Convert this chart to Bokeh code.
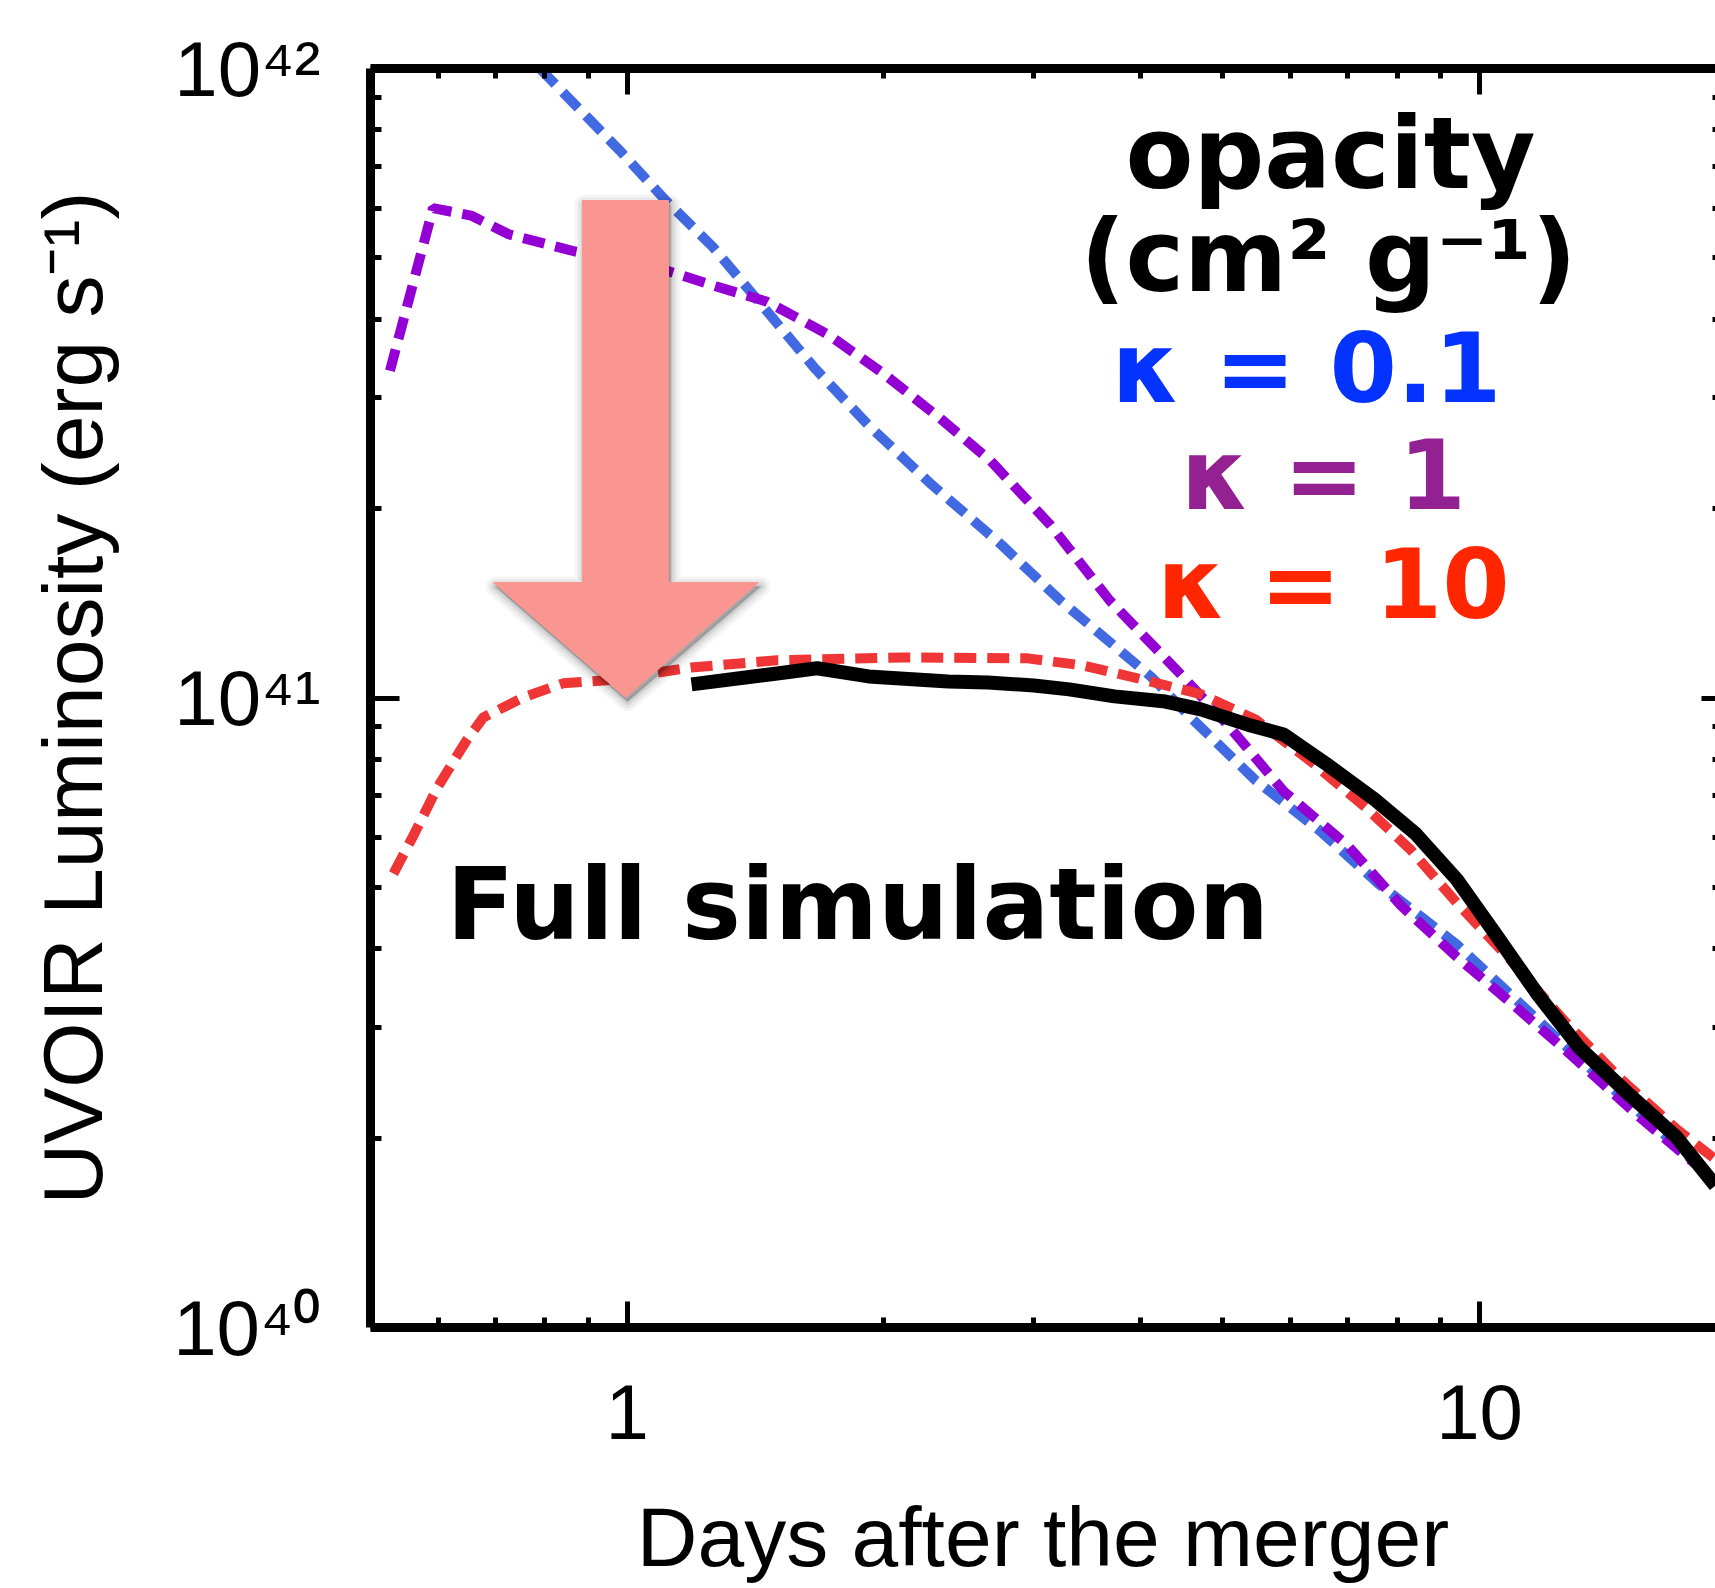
import math
from bokeh.plotting import figure
from bokeh.models import Range1d, LogAxis, CustomJSTickFormatter, FixedTicker
from bokeh.core.properties import value
from bokeh.embed import file_html
from bokeh.resources import INLINE

# ---------------- data ----------------
days_k01 = [0.79, 0.98, 1.11, 1.26, 1.46, 1.66, 1.92, 2.27, 2.75, 3.22, 4.12, 4.61,
            5.46, 6.49, 7.61, 9.40, 11.0, 13.1, 15.8, 18.9]
lum_k01 = [1.00e42, 7.41e41, 6.17e41, 5.21e41, 4.11e41, 3.34e41, 2.71e41, 2.19e41,
           1.75e41, 1.43e41, 1.08e41, 9.24e40, 7.40e40, 6.16e40, 5.07e40, 4.06e40,
           3.33e40, 2.67e40, 2.13e40, 1.71e40]

days_k1 = [0.527, 0.592, 0.656, 0.727, 0.869, 1.11, 1.27, 1.46, 1.72, 1.99, 2.33, 2.67,
           3.14, 3.68, 4.49, 5.08, 5.89, 7.00, 8.10, 9.40, 11.0, 12.8, 15.4, 18.9]
lum_k1 = [3.31e41, 6.00e41, 5.84e41, 5.45e41, 5.12e41, 4.78e41, 4.51e41, 4.26e41,
          3.78e41, 3.29e41, 2.78e41, 2.38e41, 1.88e41, 1.43e41, 1.08e41, 9.02e40,
          7.11e40, 5.83e40, 4.67e40, 3.88e40, 3.24e40, 2.71e40, 2.16e40, 1.71e40]

days_k10 = [0.532, 0.563, 0.599, 0.648, 0.678, 0.755, 0.841, 0.940, 1.19, 1.50, 2.10,
            2.95, 3.42, 4.07, 4.72, 5.46, 6.34, 7.35, 8.30, 9.40, 11.0, 12.6, 14.6, 17.0, 18.9]
lum_k10 = [5.26e40, 6.09e40, 7.21e40, 8.56e40, 9.31e40, 1.002e41, 1.055e41, 1.066e41,
           1.118e41, 1.148e41, 1.160e41, 1.156e41, 1.127e41, 1.066e41, 1.013e41, 9.24e40,
           7.93e40, 6.70e40, 5.74e40, 4.73e40, 3.77e40, 3.06e40, 2.49e40, 2.07e40, 1.85e40]

days_sim = [1.19, 1.50, 1.67, 1.92, 2.38, 2.65, 3.00, 3.30, 3.73, 4.28, 4.71, 5.39, 5.89,
            6.65, 7.53, 8.41, 9.40, 10.5, 11.7, 13.1, 15.0, 17.0, 18.9]
lum_sim = [1.051e41, 1.094e41, 1.115e41, 1.082e41, 1.062e41, 1.058e41, 1.047e41, 1.032e41,
           1.006e41, 9.87e40, 9.59e40, 9.04e40, 8.75e40, 7.81e40, 6.90e40, 6.09e40,
           5.15e40, 4.17e40, 3.38e40, 2.78e40, 2.34e40, 2.01e40, 1.68e40]

x_major = [1, 10]
x_minor = [0.6, 0.7, 0.8, 0.9, 2, 3, 4, 5, 6, 7, 8, 9]
y_major = [1e40, 1e41, 1e42]
y_minor = [2e40, 3e40, 4e40, 5e40, 6e40, 7e40, 8e40, 9e40,
           2e41, 3e41, 4e41, 5e41, 6e41, 7e41, 8e41, 9e41]

x_label = "Days after the merger"
y_label = "UVOIR Luminosity (erg s\u207b\u00b9)"
legend_title = ["opacity", "(cm\u00b2 g\u207b\u00b9)"]
legend_items = ["\u03ba  = 0.1", "\u03ba = 1", "\u03ba = 10"]
legend_colors = ["#0433FF", "#942192", "#FF2600"]
note_text = "Full simulation"

# ---------------- layout ----------------
W, H = 1715, 1588
FRAME_L, FRAME_T = 370, 68
FRAME_W, FRAME_H = W - FRAME_L, 1327 - FRAME_T
X0, X1 = 0.5, 18.91
Y0, Y1 = 1e40, 1e42


def sx(px):
    return 10 ** (math.log10(X0) + (px - FRAME_L) / FRAME_W * math.log10(X1 / X0))


def sy(py):
    return 10 ** (math.log10(Y1) - (py - FRAME_T) / FRAME_H * math.log10(Y1 / Y0))


p = figure(width=W, height=H, x_axis_type="log", y_axis_type="log",
           x_range=Range1d(X0, X1), y_range=Range1d(Y0, Y1),
           output_backend="svg", toolbar_location=None,
           min_border_left=FRAME_L, min_border_right=0,
           min_border_top=FRAME_T, min_border_bottom=H - 1327,
           outline_line_color=None, background_fill_color="white",
           border_fill_color="white")
p.grid.visible = False

AXW = 9
sup_js = """
const sup = {"0":"\u2070","1":"\u00b9","2":"\u00b2","3":"\u00b3","4":"\u2074","5":"\u2075",
             "6":"\u2076","7":"\u2077","8":"\u2078","9":"\u2079","-":"\u207b"};
const e = Math.round(Math.log10(tick));
return "10" + String(e).split("").map(c => sup[c]).join("");
"""

for ax in p.xaxis:
    ax.ticker = FixedTicker(ticks=x_major, minor_ticks=x_minor)
    ax.axis_label = x_label
    ax.axis_label_text_font = "Liberation Sans"
    ax.axis_label_text_font_size = "84px"
    ax.axis_label_text_font_style = "normal"
    ax.axis_label_text_color = "black"
    ax.axis_label_standoff = 48
    ax.major_label_text_font = "Liberation Sans"
    ax.major_label_text_font_size = "78px"
    ax.major_label_text_color = "black"
    ax.major_label_standoff = 57
    ax.formatter = CustomJSTickFormatter(code="return String(Math.round(tick));")
    ax.axis_line_width = AXW
    ax.axis_line_color = "black"
    ax.major_tick_in = 26
    ax.major_tick_out = 0
    ax.minor_tick_in = 10
    ax.minor_tick_out = 0
    ax.major_tick_line_width = 5
    ax.minor_tick_line_width = 5
    ax.major_tick_line_color = "black"
    ax.minor_tick_line_color = "black"

for ax in p.yaxis:
    ax.ticker = FixedTicker(ticks=y_major, minor_ticks=y_minor)
    ax.axis_label = y_label
    ax.axis_label_text_font = "Liberation Sans"
    ax.axis_label_text_font_size = "84px"
    ax.axis_label_text_font_style = "normal"
    ax.axis_label_text_color = "black"
    ax.axis_label_standoff = 50
    ax.major_label_text_font = "Liberation Sans"
    ax.major_label_text_font_size = "78px"
    ax.major_label_text_color = "black"
    ax.major_label_standoff = 50
    ax.formatter = CustomJSTickFormatter(code=sup_js)
    ax.axis_line_width = AXW
    ax.axis_line_color = "black"
    ax.major_tick_in = 29
    ax.major_tick_out = 0
    ax.minor_tick_in = 11
    ax.minor_tick_out = 0
    ax.major_tick_line_width = 5
    ax.minor_tick_line_width = 5
    ax.major_tick_line_color = "black"
    ax.minor_tick_line_color = "black"

top = LogAxis(ticker=FixedTicker(ticks=x_major, minor_ticks=x_minor),
              formatter=CustomJSTickFormatter(code="return '';"),
              axis_line_width=AXW, axis_line_color="black",
              major_tick_in=26, major_tick_out=0, minor_tick_in=10, minor_tick_out=0,
              major_tick_line_width=5, minor_tick_line_width=5,
              major_label_text_font_size="12px", major_label_standoff=0)
p.add_layout(top, "above")

right = LogAxis(ticker=FixedTicker(ticks=y_major, minor_ticks=y_minor),
                formatter=CustomJSTickFormatter(code="return '';"), axis_line_color=None,
                major_tick_in=14, major_tick_out=0, minor_tick_in=3, minor_tick_out=0,
                major_tick_line_width=5, minor_tick_line_width=5,
                major_label_text_font_size="12px", major_label_standoff=0)
p.add_layout(right, "right")

# ---------------- curves ----------------
DASH = "22 11"
p.line(days_k01, lum_k01, line_color="#4169E1", line_width=10, line_dash=DASH)
p.line(days_k1, lum_k1, line_color="#9400D3", line_width=10, line_dash=DASH)
p.line(days_k10, lum_k10, line_color="#EF3535", line_width=10, line_dash=DASH)
p.line(days_sim, lum_sim, line_color="black", line_width=14, line_join="round")

# ---------------- arrow annotation (pixel geometry -> data) ----------------
arrow_px = [(582, 200), (668, 200), (668, 582), (758, 582), (625, 697), (493, 582), (582, 582)]
for (grow, alpha) in [(20, 0.04), (14, 0.05), (8, 0.07), (3, 0.09)]:
    p.patch([sx(x + 2) for x, y in arrow_px], [sy(y + 4) for x, y in arrow_px],
            fill_color="black", fill_alpha=alpha,
            line_color="black", line_alpha=alpha, line_width=grow, line_join="round")
p.patch([sx(x) for x, y in arrow_px], [sy(y) for x, y in arrow_px],
        fill_color="#FA9692", line_color="#FA9692", line_width=1)

# ---------------- texts (inside the frame) ----------------
# note: sizes like "100px" with bold break the SVG font parser (read as weight 100)
ANN_FONT = value("DejaVu Sans")
p.text(x=[sx(446)], y=[sy(904)], text=[note_text],
       text_font=ANN_FONT, text_font_size="99px", text_font_style="bold",
       text_color="black", text_align="left", text_baseline="alphabetic")
p.text(x=[sx(1330), sx(1328)], y=[sy(153), sy(256)], text=legend_title,
       text_font=ANN_FONT, text_font_size="99px", text_font_style="bold",
       text_color="black", text_align="center", text_baseline="alphabetic")
p.text(x=[sx(1323), sx(1323), sx(1333)], y=[sy(368), sy(475), sy(584)],
       text=legend_items,
       text_font=ANN_FONT, text_font_size="97px", text_font_style="bold",
       text_color=legend_colors, text_align="center", text_baseline="alphabetic")

open("out.html", "w").write(file_html(p, INLINE))
